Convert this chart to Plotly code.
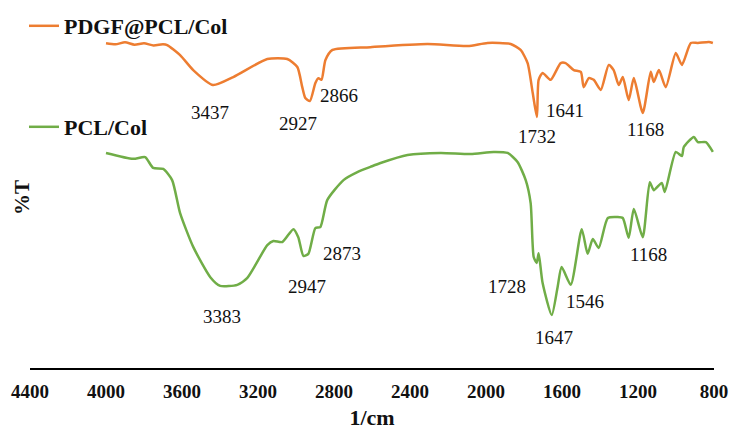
import plotly.graph_objects as go

# PDGF@PCL/Col spectrum (wavenumber in 1/cm, %T)
pdgf_wn = [4000, 3950, 3900, 3850, 3800, 3750, 3700, 3678, 3610, 3541, 3437, 3330, 3151,
           3046, 2993, 2967, 2951, 2927, 2898, 2882, 2866, 2845, 2808, 2608, 2308, 2097,
           1992, 1870, 1818, 1781, 1754, 1732, 1723, 1702, 1660, 1607, 1581, 1538, 1501,
           1486, 1459, 1433, 1396, 1354, 1328, 1301, 1280, 1249, 1222, 1175, 1133, 1117,
           1090, 1054, 1001, 969, 922, 885, 827, 806]
pdgf_t = [93.3, 93.0, 93.6, 92.9, 93.3, 92.7, 93.0, 92.8, 89.9, 85.6, 81.3, 83.6, 88.8,
          88.8, 86.5, 80.7, 77.6, 76.7, 81.9, 83.3, 82.8, 88.5, 91.4, 92.2, 93.1, 92.5,
          93.4, 93.1, 91.4, 87.6, 79.0, 72.1, 82.8, 84.8, 82.8, 87.6, 87.6, 85.6, 85.1,
          80.7, 83.3, 82.8, 79.9, 87.1, 85.6, 81.3, 83.6, 77.0, 83.3, 73.3, 85.1, 82.2,
          85.6, 80.7, 90.5, 87.1, 93.4, 93.4, 93.7, 93.4]

# PCL/Col spectrum
pcl_wn = [4000, 3857, 3794, 3752, 3699, 3652, 3610, 3541, 3451, 3399, 3309, 3256, 3151,
          3119, 3072, 3014, 2988, 2961, 2935, 2898, 2872, 2835, 2750, 2677, 2608, 2555,
          2413, 2239, 2081, 1960, 1886, 1834, 1791, 1765, 1749, 1733, 1723, 1702, 1654,
          1623, 1602, 1554, 1496, 1465, 1438, 1407, 1359, 1307, 1280, 1249, 1222, 1175,
          1138, 1117, 1075, 1059, 1001, 969, 959, 906, 885, 843, 806]
pcl_t = [61.8, 60.1, 60.6, 57.5, 57.2, 54.0, 44.5, 34.8, 26.1, 23.6, 23.9, 25.9, 35.3,
         36.5, 36.2, 39.9, 37.6, 32.2, 32.8, 40.2, 40.5, 48.3, 54.0, 56.3, 57.8, 58.9,
         61.2, 61.8, 61.5, 62.1, 61.8, 59.2, 54.0, 47.4, 31.9, 30.2, 33.0, 24.4, 15.2,
         23.3, 29.0, 23.9, 39.9, 32.8, 37.1, 34.5, 43.1, 43.4, 43.1, 37.4, 45.7, 37.6,
         53.4, 51.1, 53.2, 50.6, 62.1, 60.9, 63.5, 66.4, 64.9, 64.9, 62.1]

# Peak labels: text, label x (1/cm), label y (%T)
peak_text = ["3437", "2927", "2866", "1732", "1641", "1168",
             "3383", "2947", "2873", "1728", "1647", "1546", "1168"]
peak_x = [3451, 2988, 2772, 1733, 1586, 1159,
          3388, 2940, 2756, 1891, 1644, 1480, 1143]
peak_y = [73.3, 70.4, 78.2, 66.4, 74.1, 68.4,
          14.9, 23.3, 33.0, 23.3, 8.9, 19.0, 32.5]

x_ticks = [4400, 4000, 3600, 3200, 2800, 2400, 2000, 1600, 1200, 800]

ORANGE = "#ED7D31"
GREEN = "#70AD47"
SERIF = "Liberation Serif"

fig = go.Figure()
fig.add_trace(go.Scatter(x=pdgf_wn, y=pdgf_t, mode="lines", name="PDGF@PCL/Col",
                         line=dict(color=ORANGE, width=2.5, shape="spline", smoothing=0.6),
                         legend="legend"))
fig.add_trace(go.Scatter(x=pcl_wn, y=pcl_t, mode="lines", name="PCL/Col",
                         line=dict(color=GREEN, width=2.5, shape="spline", smoothing=0.6),
                         legend="legend2"))

for t, x, y in zip(peak_text, peak_x, peak_y):
    fig.add_annotation(x=x, y=y, text=t, showarrow=False, xref="x", yref="y",
                       font=dict(family=SERIF, size=19, color="#111"))

fig.add_annotation(x=(22 - 30) / 686, y=(368 - 198) / 348, xref="paper", yref="paper",
                   xanchor="center", yanchor="middle", text="%T", showarrow=False,
                   textangle=-90, font=dict(family=SERIF, size=21, color="#111", weight="bold"))

legend_font = dict(family=SERIF, size=22, color="#111", weight="bold")
fig.update_layout(
    width=731, height=430,
    margin=dict(l=30, r=17, t=20, b=62, autoexpand=False),
    paper_bgcolor="white", plot_bgcolor="white",
    showlegend=True,
    legend=dict(xref="container", yref="container", x=24 / 731, y=1 - 26 / 430,
                xanchor="left", yanchor="middle",
                bgcolor="rgba(0,0,0,0)", font=legend_font),
    legend2=dict(xref="container", yref="container", x=24 / 731, y=1 - 127 / 430,
                 xanchor="left", yanchor="middle",
                 bgcolor="rgba(0,0,0,0)", font=legend_font),
    xaxis=dict(range=[4400, 800], tickvals=x_ticks, ticktext=[str(v) for v in x_ticks],
               showgrid=False, zeroline=False, showline=True, linecolor="black",
               linewidth=1.5, ticks="", ticklabelstandoff=5, automargin=False,
               tickfont=dict(family=SERIF, size=19, color="#111", weight="bold"),
               title=dict(text="1/cm", standoff=11,
                          font=dict(family=SERIF, size=22, color="#111", weight="bold"))),
    yaxis=dict(range=[0, 100], showgrid=False, zeroline=False, showline=False,
               showticklabels=False, ticks="", automargin=False),
)

fig.write_html("out.html")
